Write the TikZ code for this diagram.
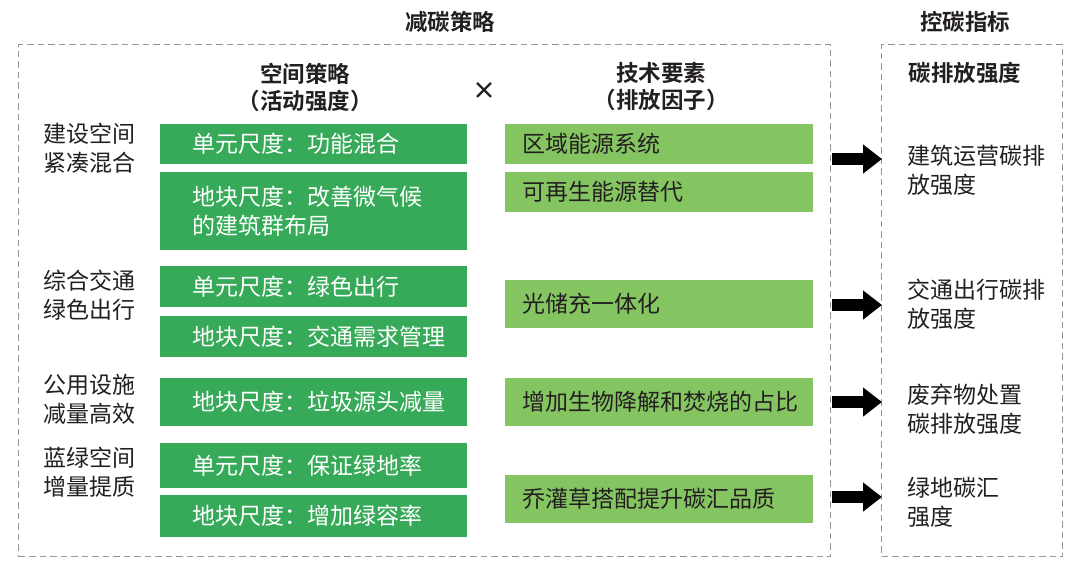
\documentclass[tikz,border=0pt]{standalone}
\usepackage{fontspec}
\setmainfont{Noto Sans CJK SC}
\newfontfamily\cjkb{Noto Sans CJK SC Bold}
\usetikzlibrary{arrows.meta}
\definecolor{dgreen}{RGB}{54,170,88}
\definecolor{lgreen}{RGB}{133,197,97}
\definecolor{txt}{RGB}{35,31,32}
\definecolor{dashc}{RGB}{150,150,150}
\tikzset{
  x=1pt, y=-1pt,
  frame/.style={draw=dashc, line width=1.2pt, dash pattern=on 6.5pt off 4pt},
  dbox/.style={fill=dgreen, minimum width=307pt, inner sep=0pt, anchor=north west},
  lbox/.style={fill=lgreen, minimum width=308pt, inner sep=0pt, anchor=north west},
  dtext/.style={text=white, font=\fontsize{23pt}{28.5pt}\selectfont, anchor=west, align=left, inner sep=0pt},
  ltext/.style={text=txt, font=\fontsize{23pt}{28.5pt}\selectfont, anchor=west, align=left, inner sep=0pt},
  side/.style={text=txt, font=\fontsize{23pt}{28.5pt}\selectfont, align=left, inner sep=0pt, anchor=north west},
  head/.style={text=txt, font=\cjkb\fontsize{22.5pt}{27pt}\selectfont, align=center, inner sep=0pt},
  bigarrow/.style={draw=black, line width=12.5pt, -{Triangle[width=28pt,length=19pt]}, shorten >=0pt},
}
\begin{document}
\begin{tikzpicture}
\useasboundingbox (0,0) rectangle (1080,571);
% frames
\node[frame, minimum width=812pt, minimum height=512pt, anchor=north west, inner sep=0pt] (left) at (18,44) {};
\node[frame, minimum width=181pt, minimum height=512pt, anchor=north west, inner sep=0pt] (right) at (881,44) {};
% headings
\node[head] (h1) at (450,22) {减碳策略};
\node[head] (h2) at (965,22) {控碳指标};
\node[head] (h3) at (965,73) {碳排放强度};
\node[head] (h4) at (305,87) {空间策略\\（活动强度）};
\node[head] (h5) at (661,87) {技术要素\\（排放因子）};
\node[text=txt, font=\cjkb\fontsize{24pt}{28pt}\selectfont, inner sep=0pt] (times) at (484,91) {×};
% left labels
\node[side] (s1) at (43,123) {建设空间\\紧凑混合};
\node[side] (s2) at (43,270) {综合交通\\绿色出行};
\node[side] (s3) at (43,374) {公用设施\\减量高效};
\node[side] (s4) at (43,447) {蓝绿空间\\增量提质};
% dark green boxes
\node[dbox, minimum height=40pt] (d1) at (160,124) {};
\node[dtext] (t1) at ([xshift=32pt]d1.west) {单元尺度：功能混合};
\node[dbox, minimum height=78pt] (d2) at (160,172) {};
\node[dtext] (t2) at ([xshift=32pt]d2.west) {地块尺度：改善微气候\\的建筑群布局};
\node[dbox, minimum height=41pt] (d3) at (160,266) {};
\node[dtext] (t3) at ([xshift=32pt]d3.west) {单元尺度：绿色出行};
\node[dbox, minimum height=41pt] (d4) at (160,316) {};
\node[dtext] (t4) at ([xshift=32pt]d4.west) {地块尺度：交通需求管理};
\node[dbox, minimum height=48pt] (d5) at (160,378) {};
\node[dtext] (t5) at ([xshift=32pt]d5.west) {地块尺度：垃圾源头减量};
\node[dbox, minimum height=45pt] (d6) at (160,443) {};
\node[dtext] (t6) at ([xshift=32pt]d6.west) {单元尺度：保证绿地率};
\node[dbox, minimum height=42pt] (d7) at (160,495) {};
\node[dtext] (t7) at ([xshift=32pt]d7.west) {地块尺度：增加绿容率};
% light green boxes
\node[lbox, minimum height=40pt] (l1) at (505,124) {};
\node[ltext] (u1) at ([xshift=17pt]l1.west) {区域能源系统};
\node[lbox, minimum height=40pt] (l2) at (505,172) {};
\node[ltext] (u2) at ([xshift=17pt]l2.west) {可再生能源替代};
\node[lbox, minimum height=48pt] (l3) at (505,280) {};
\node[ltext] (u3) at ([xshift=17pt]l3.west) {光储充一体化};
\node[lbox, minimum height=48pt] (l4) at (505,378) {};
\node[ltext] (u4) at ([xshift=17pt]l4.west) {增加生物降解和焚烧的占比};
\node[lbox, minimum height=48pt] (l5) at (505,475) {};
\node[ltext] (u5) at ([xshift=17pt]l5.west) {乔灌草搭配提升碳汇品质};
% right texts
\node[side] (r1) at (907,145) {建筑运营碳排\\放强度};
\node[side] (r2) at (907,279) {交通出行碳排\\放强度};
\node[side] (r3) at (907,384) {废弃物处置\\碳排放强度};
\node[side] (r4) at (907,477) {绿地碳汇\\强度};
% arrows
\coordinate (a1s) at (832,159); \coordinate (a1e) at (882,159);
\coordinate (a2s) at (832,305); \coordinate (a2e) at (882,305);
\coordinate (a3s) at (832,402); \coordinate (a3e) at (882,402);
\coordinate (a4s) at (832,497); \coordinate (a4e) at (882,497);
\draw[bigarrow] (a1s) -- (a1e);
\draw[bigarrow] (a2s) -- (a2e);
\draw[bigarrow] (a3s) -- (a3e);
\draw[bigarrow] (a4s) -- (a4e);
\end{tikzpicture}
\end{document}
